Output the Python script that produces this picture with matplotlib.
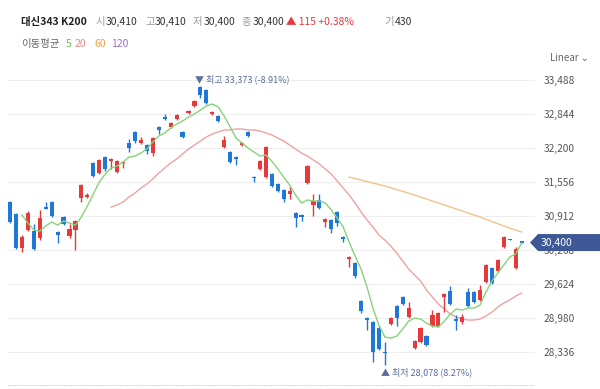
import numpy as np
import matplotlib
matplotlib.use('Agg')
import matplotlib.pyplot as plt
from matplotlib.patches import Polygon
from matplotlib.transforms import IdentityTransform

plt.rcParams['font.family'] = ['Noto Sans CJK KR', 'DejaVu Sans']

# 일봉 데이터 (시가/고가/저가/종가)
opens = [31168, 30940, 30296, 30637, 30618, 30486, 31073, 31168, 30599, 30884,
         30524, 30637, 31244, 31263, 31906, 31717, 32020, 31944, 31736, 31906,
         32285, 32494, 32285, 32247, 32096, 32588, 32778, 32588, 32740, 32494,
         32853, 32986, 33346, 33289, 32835, 32797, 32210, 32115, 32020, 32247,
         32494, 31641, 31793, 31641, 31698, 31509, 31395, 31319, 30959, 30921,
         31528, 31111, 31206, 30789, 30827, 30978, 30505, 30088, 30012, 29293,
         28970, 28894, 28780, 28325, 28856, 29198, 29368, 28989, 28401, 28515,
         28629, 28818, 28818, 29368, 29482, 28951, 28894, 29463, 29463, 29312,
         29653, 29918, 29861, 30315, 30467, 29918, 30410]
highs = [31187, 30959, 30543, 30997, 30751, 31016, 31168, 31187, 30610, 30903,
         30751, 30827, 31509, 31338, 31925, 31982, 32039, 32001, 31963, 31944,
         32361, 32513, 32399, 32266, 32399, 32607, 32835, 32683, 32835, 32513,
         32910, 33100, 33373, 33300, 32891, 32816, 32418, 32134, 32039, 32300,
         32513, 31660, 31963, 32230, 31717, 31528, 31414, 31452, 30978, 30940,
         31869, 31319, 31319, 30865, 30846, 30997, 30524, 30145, 30031, 29312,
         28989, 28913, 28818, 28515, 28989, 29217, 29387, 29274, 28553, 28799,
         28648, 29122, 29084, 29444, 29577, 29027, 29046, 29539, 29482, 29596,
         29994, 29937, 30088, 30524, 30467, 30315, 30410]
lows = [30770, 30277, 30221, 30618, 30258, 30448, 31030, 30884, 30391, 30732,
        30486, 30258, 31168, 31244, 31641, 31698, 31755, 31793, 31717, 31812,
        32115, 32285, 32266, 32077, 32039, 32456, 32730, 32570, 32721, 32380,
        32840, 32967, 33138, 33024, 32816, 32683, 32191, 31906, 31869, 32230,
        32399, 31546, 31774, 31622, 31452, 31357, 31168, 31225, 30694, 30808,
        31509, 30903, 31035, 30694, 30580, 30713, 30410, 29937, 29728, 29065,
        28742, 28136, 28363, 28078, 28837, 28818, 29217, 28970, 28382, 28496,
        28439, 28799, 28799, 29084, 29217, 28742, 28856, 29179, 29255, 29293,
        29634, 29615, 29842, 30296, 30448, 29899, 30400]
closes = [30789, 30296, 30505, 30959, 30277, 30865, 31035, 30903, 30543, 30751,
          30656, 30808, 31490, 31300, 31660, 31963, 31793, 31982, 31944, 31925,
          32191, 32323, 32342, 32134, 32380, 32532, 32740, 32664, 32816, 32399,
          32891, 33081, 33194, 33043, 32872, 32702, 32342, 31925, 31982, 32285,
          32418, 31622, 31944, 32210, 31471, 31376, 31225, 31376, 30865, 30884,
          31850, 31187, 31054, 30846, 30656, 30770, 30467, 30126, 29766, 29103,
          28932, 28325, 28382, 28306, 28970, 28970, 29236, 29160, 28534, 28780,
          28458, 29027, 29065, 29425, 29236, 28913, 28989, 29198, 29274, 29501,
          29975, 29634, 30069, 30505, 30448, 30285, 30400]

# 이동평균선
ma5_start = 2
ma5 = [30921, 30770, 30637, 30618, 30713, 30789, 30732, 30808, 30770, 30732,
       30884, 31092, 31319, 31546, 31698, 31812, 31850, 31925, 32020, 32039,
       32096, 32172, 32304, 32418, 32475, 32570, 32645, 32702, 32778, 32835,
       32910, 32986, 33024, 32967, 32797, 32588, 32380, 32285, 32191, 32115,
       32039, 32058, 31944, 31793, 31641, 31490, 31300, 31149, 31206, 31187,
       31187, 31149, 31016, 30865, 30694, 30410, 30145, 29899, 29558, 29160,
       28837, 28610, 28591, 28629, 28761, 28913, 28970, 28951, 28875, 28818,
       28799, 28913, 29046, 29141, 29122, 29160, 29160, 29217, 29463, 29672,
       29823, 29975, 30126, 30183, 30391]
ma20_start = 17
ma20 = [31073, 31111, 31168, 31263, 31338, 31433, 31509, 31603, 31717, 31812,
        31906, 31982, 32077, 32172, 32247, 32323, 32399, 32456, 32494, 32532,
        32532, 32551, 32551, 32532, 32532, 32513, 32475, 32437, 32380, 32323,
        32247, 32172, 32096, 32039, 31963, 31888, 31793, 31698, 31565, 31433,
        31300, 31149, 30978, 30827, 30694, 30543, 30448, 30334, 30202, 30050,
        29899, 29785, 29672, 29501, 29368, 29236, 29141, 29046, 28989, 28951,
        28932, 28932, 28951, 29008, 29084, 29179, 29255, 29312, 29387, 29444]
ma60_idx = [57, 63, 68, 74, 79, 83, 86]
ma60 = [31641, 31471, 31300, 31073, 30884, 30713, 30599]

yticks = [28336, 28980, 29624, 30268, 30912, 31556, 32200, 32844, 33488]

RED = '#e5393b'
BLUE = '#1f78d6'

fig = plt.figure(figsize=(6, 3.89), dpi=100)
ax = fig.add_axes([8/600, 4/389, 527/600, 320/389])

x = np.arange(len(closes))
o = np.array(opens)
c = np.array(closes)
col = [RED if cc >= oo else BLUE for oo, cc in zip(o, c)]

# 캔들
ax.vlines(x, lows, highs, colors=col, linewidth=1, zorder=3)
body_h = np.maximum(np.abs(c - o), 22)
ax.bar(x, body_h, bottom=np.minimum(o, c), width=0.7, color=col, linewidth=0, zorder=4)

# 이동평균
ax.plot(np.arange(ma5_start, ma5_start + len(ma5)), ma5, color='#86d47a', lw=1, zorder=5)
ax.plot(np.arange(ma20_start, ma20_start + len(ma20)), ma20, color='#eea3a3', lw=1, zorder=2)
ax.plot(ma60_idx, ma60, color='#f4c38c', lw=1, zorder=2)

ax.set_xlim(-0.34, 88.24)
ax.set_ylim(27702, 33763)
ax.set_yticks(yticks)
ax.set_yticklabels(['{:,}'.format(v) for v in yticks])
ax.yaxis.tick_right()
ax.tick_params(axis='y', length=0, pad=6, labelsize=7.3, labelcolor='#555555')
ax.set_xticks([])
ax.grid(True, axis='y', color='#efefef', linewidth=0.8)
ax.set_axisbelow(True)
for s in ['top', 'left', 'right']:
    ax.spines[s].set_visible(False)
ax.spines['bottom'].set_linestyle(':')
ax.spines['bottom'].set_color('#dddddd')

# 최고/최저 표시
hi_i = int(np.argmax(highs))
lo_i = int(np.argmin(lows))
ax.annotate('▼ 최고 33,373 (-8.91%)', xy=(hi_i, highs[hi_i]), xytext=(-5, 6),
            textcoords='offset pixels', ha='left', va='center', fontsize=6.5, color='#5b6c9e',
            annotation_clip=False)
ax.annotate('▲ 최저 28,078 (8.27%)', xy=(lo_i, lows[lo_i]), xytext=(-4, -7),
            textcoords='offset pixels', ha='left', va='center', fontsize=6.5, color='#5b6c9e',
            annotation_clip=False)

# 현재가 태그 (눈금 글자 위에 덮음)
last = closes[-1]
y_tag = ax.transData.transform((0, last))[1]
tip = 530
tag = Polygon([[tip, y_tag], [tip + 8, y_tag + 8.5], [600, y_tag + 8.5],
               [600, y_tag - 8.5], [tip + 8, y_tag - 8.5]],
              closed=True, transform=IdentityTransform(), facecolor='#3e5897',
              edgecolor='none', clip_on=False, zorder=10)
ax.add_patch(tag)
ax.text(541, y_tag, '{:,}'.format(last), transform=IdentityTransform(), color='white',
        fontsize=7.5, va='center', zorder=11, clip_on=False)

# 상단 텍스트
def ptext(px, py, s, **kw):
    fig.text(px/600, 1 - py/389, s, va='center', **kw)

ptext(21, 22, '대신343 K200', fontsize=7.5, fontweight='bold', color='#222222')
ptext(96, 22, '시', fontsize=7.5, color='#999999')
ptext(106, 22, '30,410', fontsize=7.5, color='#333333')
ptext(145, 22, '고', fontsize=7.5, color='#999999')
ptext(155, 22, '30,410', fontsize=7.5, color='#333333')
ptext(193, 22, '저', fontsize=7.5, color='#999999')
ptext(204, 22, '30,400', fontsize=7.5, color='#333333')
ptext(242, 22, '종', fontsize=7.5, color='#999999')
ptext(253, 22, '30,400', fontsize=7.5, color='#333333')
ptext(286, 22, '▲ 115 +0.38%', fontsize=7.5, color=RED)
ptext(384, 22, '기', fontsize=7.5, color='#999999')
ptext(395, 22, '430', fontsize=7.5, color='#333333')

ptext(21, 44, '이동평균', fontsize=7.5, color='#666666')
ptext(66, 44, '5', fontsize=7.5, color='#6abf4b')
ptext(75, 44, '20', fontsize=7.5, color='#f08585')
ptext(94, 44, '60', fontsize=7.5, color='#f0a050')
ptext(111, 44, '120', fontsize=7.5, color='#9a70d0')

ptext(550, 58, 'Linear ⌄', fontsize=7, color='#666666')

plt.savefig('out.png', dpi=100)
